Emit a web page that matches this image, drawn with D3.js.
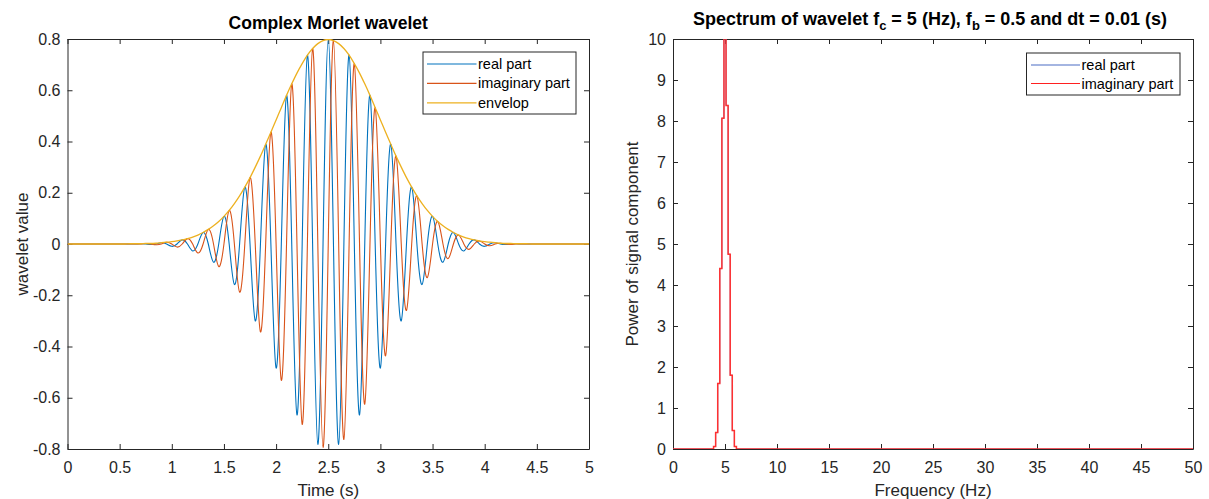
<!DOCTYPE html>
<html>
<head>
<meta charset="utf-8">
<script src="https://cdn.jsdelivr.net/npm/d3@7"></script>
<style>
  html, body { margin: 0; padding: 0; background: #fff; }
  svg { display: block; font-family: "Liberation Sans", Arial, Helvetica, sans-serif; }
</style>
</head>
<body>
<svg id="chart" width="1209" height="499"></svg>
<script>
// ---------------- DATA ----------------
const timeS = [0,0.05,0.1,0.15,0.2,0.25,0.3,0.35,0.4,0.45,0.5,0.55,0.6,0.65,0.7,0.75,0.8,0.85,0.9,0.95,
  1,1.05,1.1,1.15,1.2,1.25,1.3,1.35,1.4,1.45,1.5,1.55,1.6,1.65,1.7,1.75,1.8,1.85,1.9,1.95,
  2,2.05,2.1,2.15,2.2,2.25,2.3,2.35,2.4,2.45,2.5,2.55,2.6,2.65,2.7,2.75,2.8,2.85,2.9,2.95,
  3,3.05,3.1,3.15,3.2,3.25,3.3,3.35,3.4,3.45,3.5,3.55,3.6,3.65,3.7,3.75,3.8,3.85,3.9,3.95,
  4,4.05,4.1,4.15,4.2,4.25,4.3,4.35,4.4,4.45,4.5,4.55,4.6,4.65,4.7,4.75,4.8,4.85,4.9,4.95,5];

const realPart = [0,0,0,0,0,0,0,0,0,0,0,0,0,0,0.001,0,-0.002,0,0.005,0,
  -0.009,0,0.016,0,-0.027,0,0.045,0,-0.071,0,0.108,0,-0.158,0,0.222,0,-0.300,0,0.389,0,
  -0.484,0,0.580,0,-0.667,0,0.737,0,-0.782,0,0.798,0,-0.782,0,0.737,0,-0.667,0,0.580,0,
  -0.484,0,0.389,0,-0.300,0,0.222,0,-0.158,0,0.108,0,-0.071,0,0.045,0,-0.027,0,0.016,0,
  -0.009,0,0.005,0,-0.002,0,0.001,0,0,0,0,0,0,0,0,0,0,0,0,0,0];

const imagPart = [0,0,0,0,0,0,0,0,0,0,0,0,0,0,0,0.002,0,-0.003,0,0.007,
  0,-0.012,0,0.021,0,-0.035,0,0.057,0,-0.088,0,0.131,0,-0.188,0,0.259,0,-0.343,0,0.436,
  0,-0.532,0,0.625,0,-0.704,0,0.763,0,-0.794,0,0.794,0,-0.763,0,0.704,0,-0.625,0,0.532,
  0,-0.436,0,0.343,0,-0.259,0,0.188,0,-0.131,0,0.088,0,-0.057,0,0.035,0,-0.021,0,0.012,
  0,-0.007,0,0.003,0,-0.002,0,0,0,0,0,0,0,0,0,0,0,0,0,0,0];

const envelope = [0,0,0,0,0,0,0,0,0,0,0,0,0.001,0.001,0.001,0.002,0.002,0.003,0.005,0.007,
  0.009,0.012,0.016,0.021,0.027,0.035,0.045,0.057,0.071,0.088,0.108,0.131,0.158,0.188,0.222,0.259,0.300,0.343,0.389,0.436,
  0.484,0.532,0.580,0.625,0.667,0.704,0.737,0.763,0.782,0.794,0.798,0.794,0.782,0.763,0.737,0.704,0.667,0.625,0.580,0.532,
  0.484,0.436,0.389,0.343,0.300,0.259,0.222,0.188,0.158,0.131,0.108,0.088,0.071,0.057,0.045,0.035,0.027,0.021,0.016,0.012,
  0.009,0.007,0.005,0.003,0.002,0.002,0.001,0.001,0.001,0,0,0,0,0,0,0,0,0,0,0,0];

const leftLegend = ["real part", "imaginary part", "envelop"];
const leftXTicks = [0,0.5,1,1.5,2,2.5,3,3.5,4,4.5,5];
const leftYTicks = [-0.8,-0.6,-0.4,-0.2,0,0.2,0.4,0.6,0.8];

// Right panel: spectrum (stairs), step start frequencies and levels
const freqEdges = [0,3.9,4.1,4.3,4.5,4.7,4.9,5.1,5.3,5.5,5.7,5.9,6.1,50];
const powerReal = [0,0.06,0.4,1.6,4.4,8.07,10.3,8.38,4.75,1.8,0.45,0.06,0,0];
const powerImag = [0,0.06,0.4,1.6,4.4,8.07,10.3,8.38,4.75,1.8,0.45,0.06,0,0];
const rightLegend = ["real part", "imaginary part"];
const rightXTicks = [0,5,10,15,20,25,30,35,40,45,50];
const rightYTicks = [0,1,2,3,4,5,6,7,8,9,10];

// ---------------- DRAW ----------------
const svg = d3.select("#chart");
const axisColor = "#262626";
const tickFont = 16;
const labelFont = 17;

function frame(g, x, y, xt, yt, fmt) {
  const [x0, x1] = x.range();
  const [y0, y1] = y.range();
  const bottom = g.append("g").attr("transform", `translate(0,${y0})`)
    .call(d3.axisBottom(x).tickValues(xt).tickFormat(fmt).tickSizeInner(-5).tickSizeOuter(0).tickPadding(12.5));
  const top = g.append("g").attr("transform", `translate(0,${y1})`)
    .call(d3.axisTop(x).tickValues(xt).tickFormat("").tickSizeInner(-5).tickSizeOuter(0));
  const left = g.append("g").attr("transform", `translate(${x0},0)`)
    .call(d3.axisLeft(y).tickValues(yt).tickFormat(fmt).tickSizeInner(-5).tickSizeOuter(0).tickPadding(7));
  const right = g.append("g").attr("transform", `translate(${x1},0)`)
    .call(d3.axisRight(y).tickValues(yt).tickFormat("").tickSizeInner(-5).tickSizeOuter(0));
  [bottom, top, left, right].forEach(a => {
    a.selectAll("path.domain").attr("stroke", axisColor).attr("stroke-width", 1);
    a.selectAll(".tick line").attr("stroke", axisColor).attr("stroke-width", 1);
    a.selectAll(".tick text").attr("fill", "#262626").style("font-size", tickFont + "px")
      .style("font-family", '"Liberation Sans", Arial, sans-serif');
  });
}
const plainFmt = d => String(d);

svg.append("defs").html(
  `<clipPath id="clipL"><rect x="67.5" y="39" width="521.5" height="410"/></clipPath>
   <clipPath id="clipR"><rect x="673" y="39" width="520" height="410"/></clipPath>`);

// ---- Left panel ----
const xL = d3.scaleLinear().domain([0, 5]).range([67.5, 589]);
const yL = d3.scaleLinear().domain([-0.8, 0.8]).range([449, 39]);
const gL = svg.append("g");
frame(gL, xL, yL, leftXTicks, leftYTicks, plainFmt);

const lineL = arr => d3.line().x((d, i) => xL(timeS[i])).y(d => yL(d)).curve(d3.curveNatural)(arr);
const plotL = gL.append("g").attr("clip-path", "url(#clipL)");
plotL.append("path").attr("d", lineL(realPart)).attr("fill", "none").attr("stroke", "#0072BD").attr("stroke-width", 1.1);
plotL.append("path").attr("d", lineL(imagPart)).attr("fill", "none").attr("stroke", "#D95319").attr("stroke-width", 1.1);
plotL.append("path")
  .attr("d", d3.line().x((d, i) => xL(timeS[i])).y(d => yL(d)).curve(d3.curveMonotoneX)(envelope))
  .attr("fill", "none").attr("stroke", "#EDB120").attr("stroke-width", 1.3);

gL.append("text").attr("x", xL(2.5)).attr("y", 29).attr("text-anchor", "middle")
  .style("font-weight", "bold").style("font-size", "17.5px").attr("fill", "#000")
  .text("Complex Morlet wavelet");
gL.append("text").attr("x", xL(2.5)).attr("y", 496).attr("text-anchor", "middle")
  .style("font-size", labelFont + "px").attr("fill", "#262626").text("Time (s)");
gL.append("text").attr("transform", `translate(28,${yL(0)}) rotate(-90)`).attr("text-anchor", "middle")
  .style("font-size", labelFont + "px").attr("fill", "#262626").text("wavelet value");

// Legend left
const legL = gL.append("g").attr("transform", "translate(423,52)");
legL.append("rect").attr("width", 153).attr("height", 62).attr("fill", "#fff").attr("stroke", axisColor).attr("stroke-width", 1);
const colL = ["#0072BD", "#D95319", "#EDB120"];
leftLegend.forEach((t, i) => {
  const yy = 12 + i * 19.4;
  legL.append("line").attr("x1", 4).attr("x2", 53.5).attr("y1", yy).attr("y2", yy).attr("stroke", colL[i]).attr("stroke-width", 1.2);
  legL.append("text").attr("x", 55).attr("y", yy + 5).style("font-size", "14.5px").attr("fill", "#000").text(t);
});

// ---- Right panel ----
const xR = d3.scaleLinear().domain([0, 50]).range([673, 1193]);
const yR = d3.scaleLinear().domain([0, 10]).range([449, 39]);
const gR = svg.append("g");
frame(gR, xR, yR, rightXTicks, rightYTicks, plainFmt);

const stair = arr => d3.line().x((d, i) => xR(freqEdges[i])).y(d => yR(d)).curve(d3.curveStepAfter)(arr);
const plotR = gR.append("g").attr("clip-path", "url(#clipR)");
plotR.append("path").attr("d", stair(powerReal)).attr("fill", "none").attr("stroke", "#4a6cc4").attr("stroke-width", 0.8);
plotR.append("path").attr("d", stair(powerImag)).attr("fill", "none").attr("stroke", "#ff3030").attr("stroke-width", 1.5);

const tR = gR.append("text").attr("x", xR(25) - 3).attr("y", 25).attr("text-anchor", "middle")
  .style("font-weight", "bold").style("font-size", "18px").attr("fill", "#000");
tR.append("tspan").text("Spectrum of wavelet f");
tR.append("tspan").attr("dy", 5).style("font-size", "13px").text("c");
tR.append("tspan").attr("dy", -5).text(" = 5 (Hz), f");
tR.append("tspan").attr("dy", 5).style("font-size", "13px").text("b");
tR.append("tspan").attr("dy", -5).text(" = 0.5 and dt = 0.01 (s)");

gR.append("text").attr("x", xR(25)).attr("y", 496).attr("text-anchor", "middle")
  .style("font-size", labelFont + "px").attr("fill", "#262626").text("Frequency (Hz)");
gR.append("text").attr("transform", `translate(638,${yR(5)}) rotate(-90)`).attr("text-anchor", "middle")
  .style("font-size", labelFont + "px").attr("fill", "#262626").text("Power of signal component");

const legR = gR.append("g").attr("transform", "translate(1026.5,53)");
legR.append("rect").attr("width", 153.5).attr("height", 42).attr("fill", "#fff").attr("stroke", axisColor).attr("stroke-width", 1);
const colR = ["#4a6cc4", "#ff2020"];
rightLegend.forEach((t, i) => {
  const yy = 12 + i * 18.5;
  legR.append("line").attr("x1", 4.5).attr("x2", 53.5).attr("y1", yy).attr("y2", yy).attr("stroke", colR[i]).attr("stroke-width", 1.2);
  legR.append("text").attr("x", 55).attr("y", yy + 5).style("font-size", "14.5px").attr("fill", "#000").text(t);
});
</script>
</body>
</html>
